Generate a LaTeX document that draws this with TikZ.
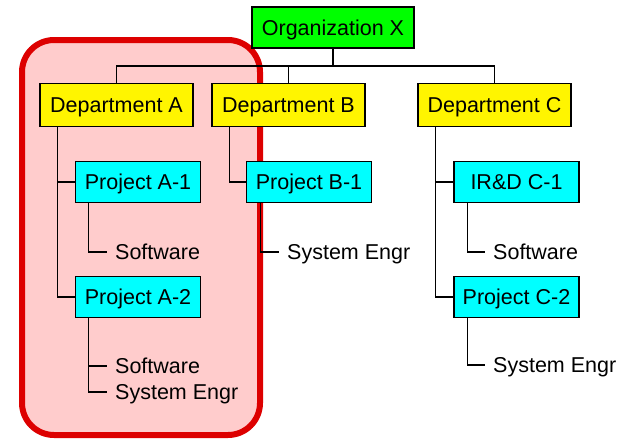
\documentclass[tikz,border=0pt]{standalone}
\usepackage{fontspec}
\setmainfont{Liberation Sans}

\definecolor{orggreen}{HTML}{00FF00}
\definecolor{deptyellow}{HTML}{FFF500}
\definecolor{projcyan}{HTML}{00FFFF}
\definecolor{groupred}{HTML}{DD0000}
\definecolor{grouppink}{HTML}{FFCCCC}

\tikzset{
  box/.style={draw=black, line width=1.6pt, inner sep=0pt,
    text height=15pt, text depth=0pt},
  orgbox/.style={box, fill=orggreen, minimum width=162pt, minimum height=41pt},
  deptbox/.style={box, fill=deptyellow, minimum width=153pt, minimum height=43pt},
  projbox/.style={box, fill=projcyan, minimum width=125pt, minimum height=41pt},
  leaf/.style={anchor=west, inner xsep=8pt, inner ysep=0pt,
    text height=15pt, text depth=0pt},
  link/.style={draw=black, line width=1.3pt},
}

\begin{document}
\begin{tikzpicture}[x=1pt,y=-1pt,font=\fontsize{21.5}{25}\selectfont]
\useasboundingbox (0,0) rectangle (626,439);

% group round Department A
\draw[draw=groupred, fill=grouppink, line width=6pt, rounded corners=32pt]
  (22,40) rectangle (260,435);

\node[orgbox] (org) at (333,27.5) {Organization X};

\node[deptbox] (deptA) at (116.5,105) {Department A};
\node[deptbox] (deptB) at (288.5,105) {Department B};
\node[deptbox] (deptC) at (494.5,105) {Department C};

\node[projbox] (pA1) at (138,182) {Project A-1};
\node[projbox] (pA2) at (138,297) {Project A-2};
\node[projbox] (pB1) at (309,182) {Project B-1};
\node[projbox] (pC1) at (516.5,182) {IR\&D C-1};
\node[projbox] (pC2) at (516.5,297) {Project C-2};

\node[leaf] (swA1) at (107,252) {Software};
\node[leaf] (swA2) at (107,366) {Software};
\node[leaf] (seA2) at (107,392) {System Engr};
\node[leaf] (seB1) at (279,252) {System Engr};
\node[leaf] (swC1) at (485,252) {Software};
\node[leaf] (seC2) at (485,365) {System Engr};

\coordinate (bus) at (333,66);

\draw[link] (org.south) -- (bus);
\draw[link] (deptA.north) -- (deptA.north |- bus) -- (deptC.north |- bus) -- (deptC.north);
\draw[link] (deptB.north) -- (deptB.north |- bus);

\draw[link] (deptA.south west) ++(18.5,0) |- (pA1.west);
\draw[link] (deptA.south west) ++(18.5,0) |- (pA2.west);
\draw[link] (deptB.south west) ++(18.5,0) |- (pB1.west);
\draw[link] (deptC.south west) ++(18.5,0) |- (pC1.west);
\draw[link] (deptC.south west) ++(18.5,0) |- (pC2.west);

\draw[link] (pA1.south west) ++(14,0) |- (swA1.west);
\draw[link] (pA2.south west) ++(14,0) |- (swA2.west);
\draw[link] (pA2.south west) ++(14,0) |- (seA2.west);
\draw[link] (pB1.south west) ++(15,0) |- (seB1.west);
\draw[link] (pC1.south west) ++(14,0) |- (swC1.west);
\draw[link] (pC2.south west) ++(14,0) |- (seC2.west);

\end{tikzpicture}
\end{document}
